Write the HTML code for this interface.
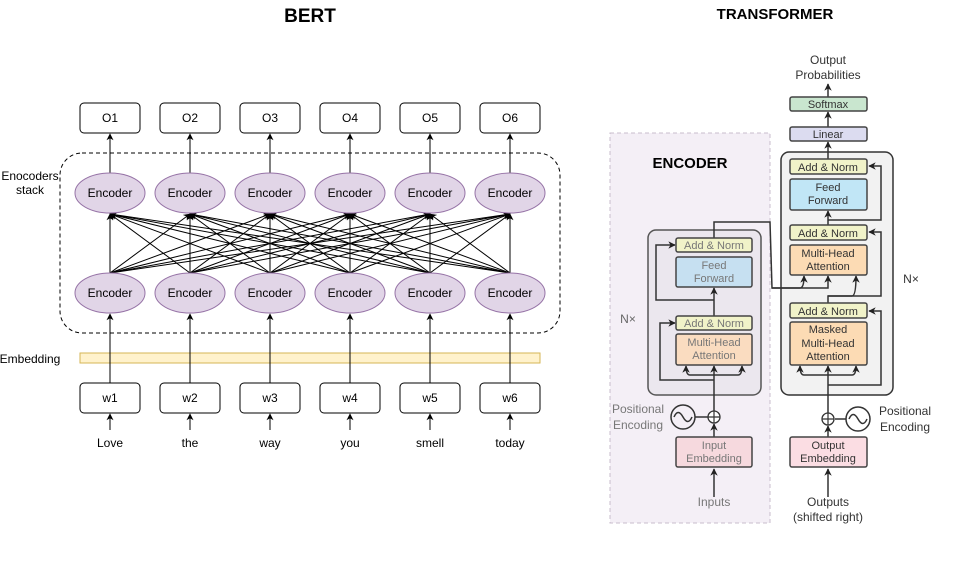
<!DOCTYPE html>
<html><head><meta charset="utf-8"><style>
html,body{margin:0;padding:0;background:#fff;}
svg{display:block;font-family:"Liberation Sans",sans-serif;}
</style></head><body>
<svg width="963" height="561" viewBox="0 0 963 561" xmlns="http://www.w3.org/2000/svg">
<defs>
<marker id="a" viewBox="0 0 10 10" refX="9" refY="5" markerWidth="7" markerHeight="7" orient="auto"><path d="M0,0 L10,5 L0,10 L3,5 z" fill="#000"/></marker>
<marker id="b" viewBox="0 0 10 10" refX="9" refY="5" markerWidth="5" markerHeight="5" orient="auto"><path d="M0,0 L10,5 L0,10 L3,5 z" fill="#222"/></marker>
</defs>
<text x="310" y="22" font-size="19" font-weight="bold" text-anchor="middle">BERT</text>
<text x="775" y="19" font-size="15" font-weight="bold" text-anchor="middle">TRANSFORMER</text>

<rect x="60" y="153" width="500" height="180" rx="22" fill="none" stroke="#000" stroke-dasharray="4,3"/>
<text x="30" y="180" font-size="12" text-anchor="middle">Enocoders</text>
<text x="30" y="194" font-size="12" text-anchor="middle">stack</text>
<text x="30" y="363" font-size="12" text-anchor="middle">Embedding</text>
<rect x="80" y="353" width="460" height="10" fill="#fff2cc" stroke="#d6b656"/>

<g font-size="12" text-anchor="middle">
<g stroke="#000" stroke-width="1" marker-end="url(#a)">
<line x1="110" y1="273" x2="110" y2="214"/><line x1="110" y1="273" x2="190" y2="214"/><line x1="110" y1="273" x2="270" y2="214"/><line x1="110" y1="273" x2="350" y2="214"/><line x1="110" y1="273" x2="430" y2="214"/><line x1="110" y1="273" x2="510" y2="214"/>
<line x1="190" y1="273" x2="110" y2="214"/><line x1="190" y1="273" x2="190" y2="214"/><line x1="190" y1="273" x2="270" y2="214"/><line x1="190" y1="273" x2="350" y2="214"/><line x1="190" y1="273" x2="430" y2="214"/><line x1="190" y1="273" x2="510" y2="214"/>
<line x1="270" y1="273" x2="110" y2="214"/><line x1="270" y1="273" x2="190" y2="214"/><line x1="270" y1="273" x2="270" y2="214"/><line x1="270" y1="273" x2="350" y2="214"/><line x1="270" y1="273" x2="430" y2="214"/><line x1="270" y1="273" x2="510" y2="214"/>
<line x1="350" y1="273" x2="110" y2="214"/><line x1="350" y1="273" x2="190" y2="214"/><line x1="350" y1="273" x2="270" y2="214"/><line x1="350" y1="273" x2="350" y2="214"/><line x1="350" y1="273" x2="430" y2="214"/><line x1="350" y1="273" x2="510" y2="214"/>
<line x1="430" y1="273" x2="110" y2="214"/><line x1="430" y1="273" x2="190" y2="214"/><line x1="430" y1="273" x2="270" y2="214"/><line x1="430" y1="273" x2="350" y2="214"/><line x1="430" y1="273" x2="430" y2="214"/><line x1="430" y1="273" x2="510" y2="214"/>
<line x1="510" y1="273" x2="110" y2="214"/><line x1="510" y1="273" x2="190" y2="214"/><line x1="510" y1="273" x2="270" y2="214"/><line x1="510" y1="273" x2="350" y2="214"/><line x1="510" y1="273" x2="430" y2="214"/><line x1="510" y1="273" x2="510" y2="214"/>
<line x1="110" y1="173" x2="110" y2="134"/><line x1="190" y1="173" x2="190" y2="134"/><line x1="270" y1="173" x2="270" y2="134"/><line x1="350" y1="173" x2="350" y2="134"/><line x1="430" y1="173" x2="430" y2="134"/><line x1="510" y1="173" x2="510" y2="134"/>
<line x1="110" y1="383" x2="110" y2="314"/><line x1="190" y1="383" x2="190" y2="314"/><line x1="270" y1="383" x2="270" y2="314"/><line x1="350" y1="383" x2="350" y2="314"/><line x1="430" y1="383" x2="430" y2="314"/><line x1="510" y1="383" x2="510" y2="314"/>
<line x1="110" y1="430" x2="110" y2="414"/><line x1="190" y1="430" x2="190" y2="414"/><line x1="270" y1="430" x2="270" y2="414"/><line x1="350" y1="430" x2="350" y2="414"/><line x1="430" y1="430" x2="430" y2="414"/><line x1="510" y1="430" x2="510" y2="414"/>
</g>
<g fill="#e1d5e7" stroke="#9673a6">
<ellipse cx="110" cy="193" rx="35" ry="20"/><ellipse cx="190" cy="193" rx="35" ry="20"/><ellipse cx="270" cy="193" rx="35" ry="20"/><ellipse cx="350" cy="193" rx="35" ry="20"/><ellipse cx="430" cy="193" rx="35" ry="20"/><ellipse cx="510" cy="193" rx="35" ry="20"/>
<ellipse cx="110" cy="293" rx="35" ry="20"/><ellipse cx="190" cy="293" rx="35" ry="20"/><ellipse cx="270" cy="293" rx="35" ry="20"/><ellipse cx="350" cy="293" rx="35" ry="20"/><ellipse cx="430" cy="293" rx="35" ry="20"/><ellipse cx="510" cy="293" rx="35" ry="20"/>
</g>
<g>
<text x="110" y="197">Encoder</text><text x="190" y="197">Encoder</text><text x="270" y="197">Encoder</text><text x="350" y="197">Encoder</text><text x="430" y="197">Encoder</text><text x="510" y="197">Encoder</text>
<text x="110" y="297">Encoder</text><text x="190" y="297">Encoder</text><text x="270" y="297">Encoder</text><text x="350" y="297">Encoder</text><text x="430" y="297">Encoder</text><text x="510" y="297">Encoder</text>
</g>
<g fill="#fff" stroke="#000">
<rect x="80" y="103" width="60" height="30" rx="4"/><rect x="160" y="103" width="60" height="30" rx="4"/><rect x="240" y="103" width="60" height="30" rx="4"/><rect x="320" y="103" width="60" height="30" rx="4"/><rect x="400" y="103" width="60" height="30" rx="4"/><rect x="480" y="103" width="60" height="30" rx="4"/>
<rect x="80" y="383" width="60" height="30" rx="4"/><rect x="160" y="383" width="60" height="30" rx="4"/><rect x="240" y="383" width="60" height="30" rx="4"/><rect x="320" y="383" width="60" height="30" rx="4"/><rect x="400" y="383" width="60" height="30" rx="4"/><rect x="480" y="383" width="60" height="30" rx="4"/>
</g>
<text x="110" y="122">O1</text><text x="190" y="122">O2</text><text x="270" y="122">O3</text><text x="350" y="122">O4</text><text x="430" y="122">O5</text><text x="510" y="122">O6</text>
<text x="110" y="402">w1</text><text x="190" y="402">w2</text><text x="270" y="402">w3</text><text x="350" y="402">w4</text><text x="430" y="402">w5</text><text x="510" y="402">w6</text>
<text x="110" y="447">Love</text><text x="190" y="447">the</text><text x="270" y="447">way</text><text x="350" y="447">you</text><text x="430" y="447">smell</text><text x="510" y="447">today</text>
</g>

<!-- Transformer -->
<rect x="610" y="133" width="160" height="390" fill="#f4eff6" stroke="#c8bccc" stroke-dasharray="4,3"/>
<text x="690" y="168" font-size="15" font-weight="bold" text-anchor="middle">ENCODER</text>
<text x="628" y="323" font-size="12" fill="#666" text-anchor="middle">N×</text>

<rect x="648" y="230" width="113" height="165" rx="8" fill="#ebe7ee" stroke="#555" stroke-width="1.5"/>
<rect x="781" y="152" width="112" height="243" rx="8" fill="#f2f2f2" stroke="#333" stroke-width="1.5"/>
<text x="911" y="283" font-size="12" fill="#333" text-anchor="middle">N×</text>

<g stroke="#333" stroke-width="1.5" fill="none">
<path d="M714,497L714,469" marker-end="url(#b)"/>
<path d="M714,437L714,424" marker-end="url(#b)"/>
<path d="M714,411L714,366" marker-end="url(#b)"/>
<path d="M714,380L660,380L660,323L675,323" marker-end="url(#b)"/>
<path d="M714,375L690,375Q686,375 686,366" marker-end="url(#b)"/>
<path d="M714,375L738,375Q742,375 742,366" marker-end="url(#b)"/>
<path d="M714,316L714,288" marker-end="url(#b)"/>
<path d="M714,300L656,300L656,245L675,245" marker-end="url(#b)"/>
<path d="M714,238L714,222L770,222L772,288L800,288Q804,288 804,276" marker-end="url(#b)"/>
<path d="M772,288L828,288L828,276" marker-end="url(#b)"/>
<path d="M695,417L708,417"/>
<circle cx="683" cy="417" r="12"/>
<path d="M674,417Q678,408 683,417T692,417"/>
<path d="M828,497L828,469" marker-end="url(#b)"/>
<path d="M828,437L828,426" marker-end="url(#b)"/>
<path d="M828,413L828,366" marker-end="url(#b)"/>
<path d="M828,385L881,385L881,311L869,311" marker-end="url(#b)"/>
<path d="M828,375L804,375Q800,375 800,366" marker-end="url(#b)"/>
<path d="M828,375L852,375Q856,375 856,366" marker-end="url(#b)"/>
<path d="M828,303L828,296L852,296Q856,296 856,276" marker-end="url(#b)"/>
<path d="M828,296L881,296L881,232L869,232" marker-end="url(#b)"/>
<path d="M828,225L828,211" marker-end="url(#b)"/>
<path d="M828,220L881,220L881,166L869,166" marker-end="url(#b)"/>
<path d="M828,159L828,142" marker-end="url(#b)"/>
<path d="M828,127L828,112" marker-end="url(#b)"/>
<path d="M828,97L828,84" marker-end="url(#b)"/>
<path d="M835,419L846,419"/>
<circle cx="858" cy="419" r="12"/>
<path d="M849,419Q853,410 858,419T867,419"/>
</g>
<g stroke="#333" stroke-width="1.3" fill="#fff">
<circle cx="714" cy="417" r="6"/><circle cx="828" cy="419" r="6"/>
</g>
<path d="M708,417H720M714,411V423M822,419H834M828,413V425" stroke="#333" stroke-width="1.2"/>

<g stroke="#444" stroke-width="1.5">
<rect x="676" y="238" width="76" height="14" rx="2" fill="#f1f3c9"/>
<rect x="676" y="257" width="76" height="30" rx="2" fill="#c6e0f1"/>
<rect x="676" y="316" width="76" height="14" rx="2" fill="#f1f3c9"/>
<rect x="676" y="334" width="76" height="31" rx="2" fill="#fadcc0"/>
<rect x="676" y="437" width="76" height="30" rx="2" fill="#f6d9de"/>
<rect x="790" y="97" width="77" height="14" rx="2" fill="#c9e6cf"/>
<rect x="790" y="127" width="77" height="14" rx="2" fill="#dcdcf0"/>
<rect x="790" y="159" width="77" height="15" rx="2" fill="#f1f3c9"/>
<rect x="790" y="179" width="77" height="31" rx="2" fill="#c1e6f6"/>
<rect x="790" y="225" width="77" height="15" rx="2" fill="#f1f3c9"/>
<rect x="790" y="245" width="77" height="30" rx="2" fill="#fcdbb4"/>
<rect x="790" y="303" width="77" height="15" rx="2" fill="#f1f3c9"/>
<rect x="790" y="322" width="77" height="43" rx="2" fill="#fcdbb4"/>
<rect x="790" y="437" width="77" height="30" rx="2" fill="#fbdde3"/>
</g>
<g font-size="11" text-anchor="middle" fill="#777">
<text x="714" y="249">Add &amp; Norm</text>
<text x="714" y="269">Feed</text><text x="714" y="282">Forward</text>
<text x="714" y="327">Add &amp; Norm</text>
<text x="714" y="346">Multi-Head</text><text x="714" y="359">Attention</text>
<text x="714" y="449">Input</text><text x="714" y="462">Embedding</text>
<text x="714" y="506" font-size="12">Inputs</text>
<text x="638" y="413" font-size="12">Positional</text><text x="638" y="429" font-size="12">Encoding</text>
</g>
<g font-size="11" text-anchor="middle" fill="#333">
<text x="828" y="64" font-size="12">Output</text><text x="828" y="79" font-size="12">Probabilities</text>
<text x="828" y="108">Softmax</text>
<text x="828" y="138">Linear</text>
<text x="828" y="171">Add &amp; Norm</text>
<text x="828" y="191">Feed</text><text x="828" y="204">Forward</text>
<text x="828" y="237">Add &amp; Norm</text>
<text x="828" y="257">Multi-Head</text><text x="828" y="270">Attention</text>
<text x="828" y="315">Add &amp; Norm</text>
<text x="828" y="333">Masked</text><text x="828" y="347">Multi-Head</text><text x="828" y="360">Attention</text>
<text x="828" y="449">Output</text><text x="828" y="462">Embedding</text>
<text x="828" y="506" font-size="12">Outputs</text><text x="828" y="521" font-size="12">(shifted right)</text>
<text x="905" y="415" font-size="12">Positional</text><text x="905" y="431" font-size="12">Encoding</text>
</g>
</svg>
</body></html>
